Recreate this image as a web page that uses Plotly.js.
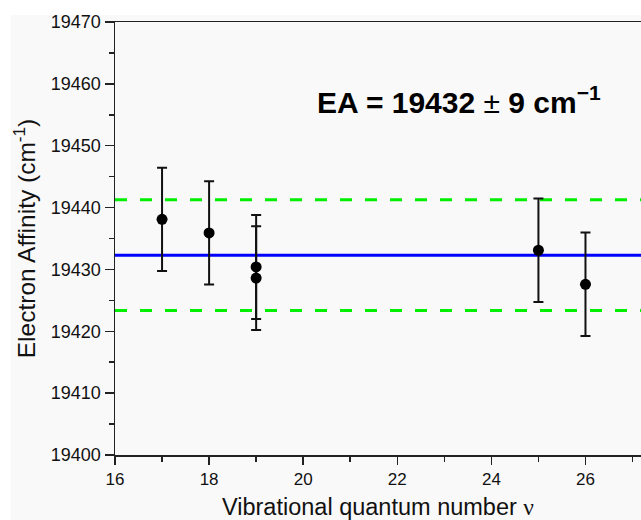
<!DOCTYPE html>
<html>
<head>
<meta charset="utf-8">
<script src="https://cdn.plot.ly/plotly-3.0.1.min.js"></script>
<style>html,body{margin:0;padding:0;background:#fff;}#chart{width:641px;height:520px;}</style>
</head>
<body>
<div id="chart"></div>
<script>
// Data
var vNums   = [17, 18, 19, 19, 25, 26];
var eaVals  = [19438.1, 19435.9, 19430.4, 19428.6, 19433.1, 19427.6];
var eaErrs  = [8.35, 8.35, 8.4, 8.4, 8.35, 8.35];
var meanEA  = 19432.3;
var meanErr = 8.95;
var xRange  = [16, 27.18];
var yRange  = [19400, 19470];
var xTicks  = [16, 18, 20, 22, 24, 26];
var yTicks  = [19400, 19410, 19420, 19430, 19440, 19450, 19460, 19470];
var annText = '<b>EA = 19432 </b>± <b>9 cm<sup>−1</sup></b>';

var traces = [
  {x: xRange, y: [meanEA + meanErr, meanEA + meanErr], mode: 'lines',
   line: {color: '#00ee00', width: 3, dash: '12px,13px'}, hoverinfo: 'skip'},
  {x: xRange, y: [meanEA - meanErr, meanEA - meanErr], mode: 'lines',
   line: {color: '#00ee00', width: 3, dash: '12px,13px'}, hoverinfo: 'skip'},
  {x: xRange, y: [meanEA, meanEA], mode: 'lines',
   line: {color: '#0000ff', width: 3}, hoverinfo: 'skip'},
  {x: vNums, y: eaVals, mode: 'markers',
   marker: {color: '#000', size: 11},
   error_y: {type: 'data', array: eaErrs, visible: true, color: '#111', thickness: 2, width: 5}}
];

var layout = {
  width: 641, height: 520,
  margin: {l: 115, r: 0, t: 22, b: 65},
  showlegend: false,
  paper_bgcolor: '#ffffff',
  plot_bgcolor: '#f9f9f9',
  font: {family: 'Liberation Sans, Arial, sans-serif', color: '#111'},
  shapes: [{type: 'rect', xref: 'paper', yref: 'paper', x0: -0.198, x1: 1.01, y0: -0.16, y1: 1.0162,
            fillcolor: '#f9f9f9', line: {width: 0}, layer: 'below'}],
  xaxis: {
    range: xRange, tickvals: xTicks, ticktext: xTicks.map(String),
    showgrid: false, zeroline: false,
    showline: true, linecolor: '#222', linewidth: 1.5, mirror: true,
    ticks: 'outside', ticklen: 8, tickwidth: 1.5, tickcolor: '#222',
    tickfont: {size: 17, color: '#111'},
    minor: {tickvals: [17, 19, 21, 23, 25, 27], ticks: 'outside', ticklen: 5, tickwidth: 1.5, tickcolor: '#222'},
    title: {text: 'Vibrational quantum number <span style="font-family:Liberation Serif">ν</span>', font: {size: 23.5, color: '#111'}, standoff: 12}
  },
  yaxis: {
    range: yRange, tickvals: yTicks, ticktext: yTicks.map(String),
    showgrid: false, zeroline: false,
    showline: true, linecolor: '#222', linewidth: 1.5,
    ticks: 'outside', ticklen: 9, tickwidth: 1.5, tickcolor: '#222',
    tickfont: {size: 18, color: '#111'},
    minor: {tickvals: [19405, 19415, 19425, 19435, 19445, 19455, 19465], ticks: 'outside', ticklen: 5, tickwidth: 1.5, tickcolor: '#222'},
    title: {text: 'Electron Affinity (cm<sup>-1</sup>)', font: {size: 24.5, color: '#111'}, standoff: 8}
  },
  annotations: [{
    text: annText, xref: 'x', yref: 'y', x: 20.25, y: 19457.4,
    xanchor: 'left', yanchor: 'middle', showarrow: false,
    font: {size: 30, color: '#000', family: 'Liberation Sans, Arial, sans-serif'}
  }]
};

Plotly.newPlot('chart', traces, layout, {displayModeBar: false, staticPlot: true});
</script>
</body>
</html>
